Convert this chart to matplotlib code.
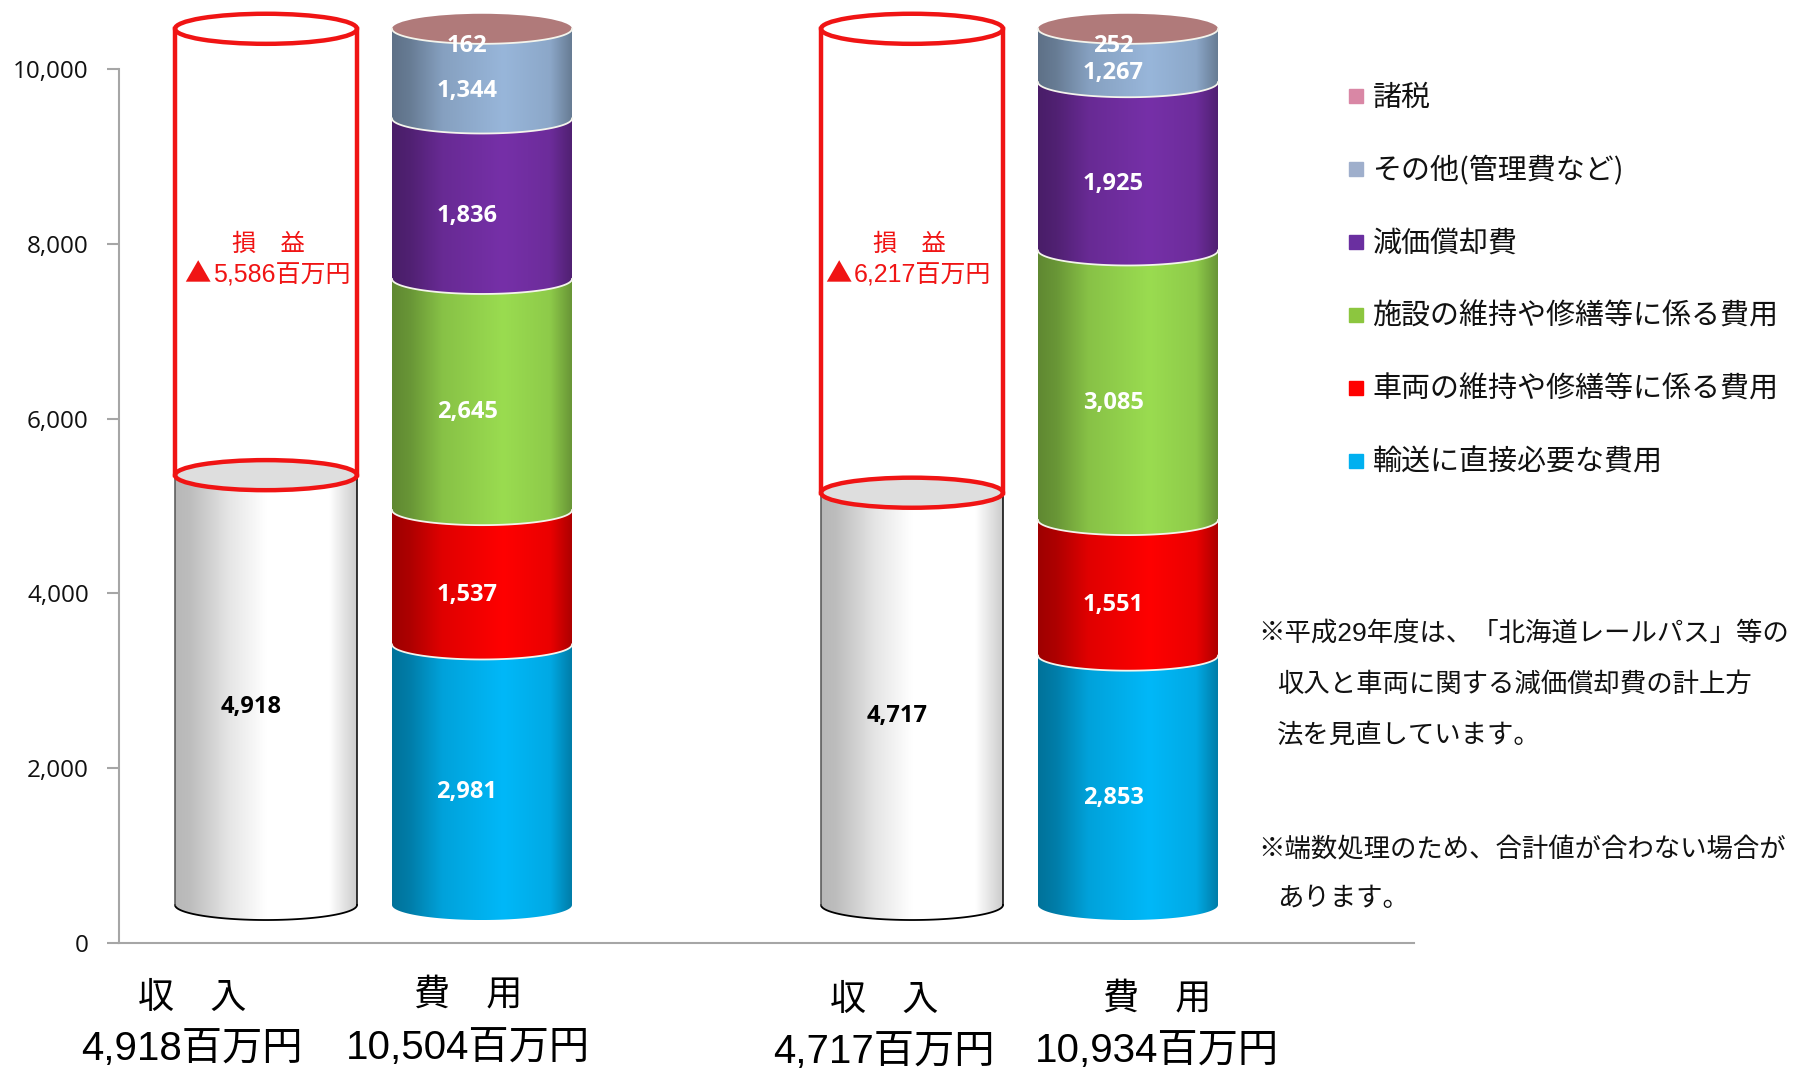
import numpy as np
import matplotlib
matplotlib.use("Agg")
import matplotlib.pyplot as plt
from matplotlib.colors import to_rgb
from matplotlib.lines import Line2D
from matplotlib.path import Path
from matplotlib.patches import PathPatch, Ellipse

JP = ["Noto Sans CJK JP", "DejaVu Sans"]
MIXED = ["Liberation Sans", "Noto Sans CJK JP", "DejaVu Sans"]
plt.rcParams["font.family"] = JP

# values, millions of yen
cost_names = ["輸送に直接必要な費用", "車両の維持や修繕等に係る費用", "施設の維持や修繕等に係る費用",
              "減価償却費", "その他(管理費など)", "諸税"]
cost_a = [2981, 1537, 2645, 1836, 1344, 162]
cost_b = [2853, 1551, 3085, 1925, 1267, 252]
revenue = [4918, 4717]
loss = [5586, 6217]
cost_total = [10504, 10934]
yticks = [0, 2000, 4000, 6000, 8000, 10000]

notes = ["※平成29年度は、「北海道レールパス」等の", "収入と車両に関する減価償却費の計上方",
         "法を見直しています。", "※端数処理のため、合計値が合わない場合が", "あります。"]

# styles
bar_colors = ["#00B8F8", "#FF0000", "#9ADC50", "#7630A8", "#98B6DA", "#B07A7A"]
legend_colors = ["#00B0F0", "#FF0000", "#8CC63F", "#6A2FA0", "#9FAFCC", "#D987A5"]
gray_color = "#FFFFFF"

W, H = 1807, 1069
AX_LEFT, AX_RIGHT, AX_ZERO, PX_PER_UNIT = 119, 1414, 943, 0.0874
BASE = 435       # the cylinders float above the axis line
CLIP = 10025     # stack is cut here, as in the original
RY = 172         # ellipse half height in data units
LABEL_DROP = 198
X_REV = [147, 793]
X_COST = [363, 1009]
RX = 91


def px(x, y):
    return x / W, 1 - y / H


def shaded(color, light=False):
    t = np.linspace(0, 1, 256)
    if light:
        f = np.interp(t, [0, .08, .3, .5, .85, 1], [.72, .74, .9, 1, 1, .8])
        return np.clip(f[None, :, None] * np.ones(3), 0, 1)
    f = np.interp(t, [0, .1, .28, .62, .88, 1], [.62, .68, .88, 1.0, .92, .68])
    return np.clip(f[None, :, None] * np.array(to_rgb(color)), 0, 1)


def band(ax, xc, rx, lo, hi, color, light=False):
    tt = np.linspace(np.pi, 2 * np.pi, 60)
    xs = xc + rx * np.cos(tt)
    arc = RY * np.sin(tt)
    verts = np.vstack([np.c_[xs, lo + arc], np.c_[xs[::-1], hi + arc[::-1]], [xs[0], lo + arc[0]]])
    codes = [Path.MOVETO] + [Path.LINETO] * (len(verts) - 2) + [Path.CLOSEPOLY]
    patch = PathPatch(Path(verts, codes), fc="none", ec="none", transform=ax.transData)
    ax.add_patch(patch)
    im = ax.imshow(shaded(color, light), extent=(xc - rx, xc + rx, lo - RY, hi + RY),
                   aspect="auto", zorder=2, interpolation="bilinear")
    im.set_clip_path(patch)
    return xs, arc


fig = plt.figure(figsize=(W / 100, H / 100), dpi=100, facecolor="white")
ax = fig.add_axes([AX_LEFT / W, 1 - AX_ZERO / H, (AX_RIGHT - AX_LEFT) / W, AX_ZERO / H])
ax.patch.set_alpha(0)

for xc, values in zip(X_COST, [cost_a, cost_b]):
    tops = np.minimum(np.cumsum(values), CLIP)
    bottoms = np.r_[0, tops[:-1]]
    for lo, hi, color, val in zip(bottoms, tops, bar_colors, values):
        xs, arc = band(ax, xc, RX - 1, lo + BASE, hi + BASE, color)
        if hi < CLIP:
            ax.plot(xs, hi + BASE + arc, color="#F4F4EC", lw=1.3, zorder=3)
        ax.text(xc - 15, (lo + hi) / 2 + BASE - LABEL_DROP, f"{val:,}", color="white", fontsize=17,
                fontweight="bold", family="Open Sans", ha="center", va="center", zorder=6)
    ax.add_patch(Ellipse((xc, CLIP + BASE), 2 * (RX - 1), 2 * RY, fc=bar_colors[-1], ec="none", zorder=4))
    tt = np.linspace(np.pi, 2 * np.pi, 60)
    ax.plot(xc + (RX - 1) * np.cos(tt), CLIP + BASE + RY * np.sin(tt), color="#F4F4EC", lw=1.3, zorder=4)

for i, xc in enumerate(X_REV):
    top = revenue[i] + BASE
    xs, arc = band(ax, xc, RX, BASE, top, gray_color, light=True)
    ax.plot(xs, BASE + arc, color="black", lw=1.3, zorder=3)
    ax.plot([xc - RX] * 2, [BASE, top], color="#555555", lw=1.1, zorder=3)
    ax.plot([xc + RX] * 2, [BASE, top], color="black", lw=1.1, zorder=3)
    ax.add_patch(Ellipse((xc, top), 2 * RX, 2 * RY, fc="#DEDEDE", ec="none", zorder=3))
    ax.text(xc - 15, revenue[i] / 2 + BASE - LABEL_DROP, f"{revenue[i]:,}", color="black", fontsize=17,
            fontweight="bold", family="Open Sans", ha="center", va="center", zorder=6)
    # loss outline
    upper = CLIP + BASE
    for yy in [top, upper]:
        ax.add_patch(Ellipse((xc, yy), 2 * RX, 2 * RY, fc="none", ec="#F01414", lw=3.2, zorder=5))
    ax.plot([xc - RX] * 2, [top, upper], color="#F01414", lw=3.2, zorder=5)
    ax.plot([xc + RX] * 2, [top, upper], color="#F01414", lw=3.2, zorder=5)

ax.set_xlim(0, AX_RIGHT - AX_LEFT)
ax.set_ylim(0, AX_ZERO / PX_PER_UNIT)
ax.set_xticks([])
ax.set_yticks(yticks)
ax.set_yticklabels([f"{v:,}" for v in yticks], family="Open Sans", fontsize=17.5, color="#111111")
ax.tick_params(axis="y", length=9, width=1.5, color="#A6A6A6", pad=12.7)
for s in ["top", "right"]:
    ax.spines[s].set_visible(False)
for s in ["left", "bottom"]:
    ax.spines[s].set_color("#A6A6A6")
    ax.spines[s].set_linewidth(1.5)
ax.spines["left"].set_bounds(0, 10000)

# loss captions
for xpos, val in zip([268, 909], loss):
    fig.text(*px(xpos, 244), "損\u3000益", color="#F01414", fontsize=17.5, family=JP, ha="center", va="center")
    fig.text(*px(xpos - 55, 276), f"{val:,}百万円", color="#F01414", fontsize=18, family=MIXED, ha="left", va="center")
    fig.text(*px(xpos - 57, 275), "▲", color="#F01414", fontsize=19, family=JP, ha="right", va="center")

# labels under the bars
head_x = [192, 468, 884, 1157]
head_y = [998, 994, 1000, 998]
foot_y = [1049, 1048, 1052, 1051]
heads = ["収\u3000入", "費\u3000用", "収\u3000入", "費\u3000用"]
amounts = [revenue[0], cost_total[0], revenue[1], cost_total[1]]
for xpos, y1, y2, head, amount in zip(head_x, head_y, foot_y, heads, amounts):
    fig.text(*px(xpos, y1), head, fontsize=26, family=JP, color="black", ha="center", va="center")
    fig.text(*px(xpos, y2), f"{amount:,}百万円", fontsize=29, family=MIXED, color="black", ha="center", va="center")

# legend, top row first
handles = [Line2D([], [], ls="none", marker="s", ms=10, color=c) for c in legend_colors[::-1]]
fig.legend(handles, cost_names[::-1], loc="upper left", bbox_to_anchor=px(1333, 83), frameon=False,
           prop={"family": JP, "size": 20.9}, labelspacing=1.48, handletextpad=-0.24, handlelength=1.6,
           borderpad=0, borderaxespad=0, labelcolor="#111111")

# notes
note_x = [1258, 1277, 1277, 1258, 1277]
note_y = [633, 684, 735, 850, 899]
for xpos, ypos, line in zip(note_x, note_y, notes):
    fig.text(*px(xpos, ypos), line, fontsize=19, family=MIXED, color="#111111", ha="left", va="center")

fig.savefig("out.png", dpi=100)
